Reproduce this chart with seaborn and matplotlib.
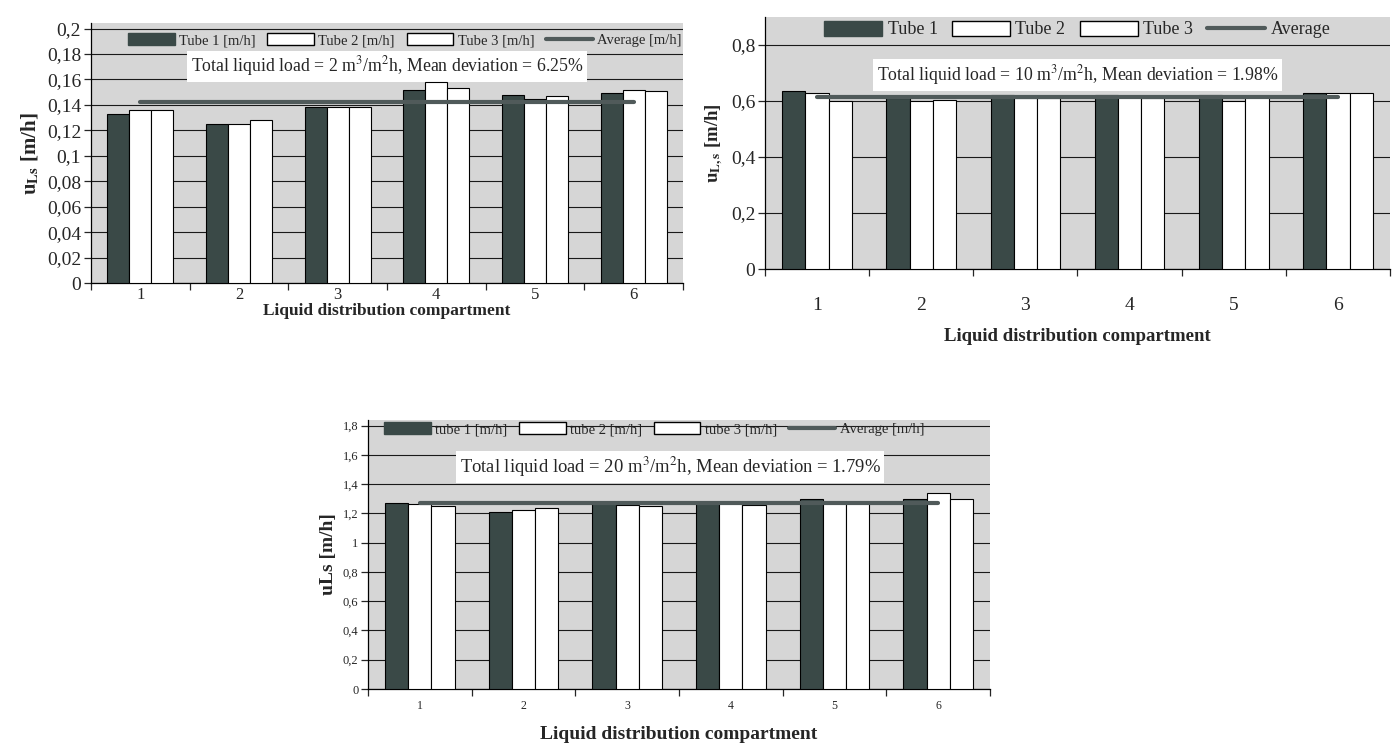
import numpy as np
import pandas as pd
import matplotlib
matplotlib.use('Agg')
import matplotlib.pyplot as plt
import seaborn as sns
from matplotlib.patches import Patch
from matplotlib.lines import Line2D
from matplotlib.ticker import MultipleLocator, FuncFormatter, FixedLocator

# Data
compartments = ['1', '2', '3', '4', '5', '6']

# load 2 m3/m2h
tube1_2 = [0.133, 0.125, 0.138, 0.152, 0.148, 0.149]
tube2_2 = [0.136, 0.125, 0.138, 0.158, 0.145, 0.152]
tube3_2 = [0.136, 0.128, 0.138, 0.153, 0.147, 0.151]
avg_2 = [0.142, 0.142, 0.142, 0.142, 0.142, 0.142]

# load 10 m3/m2h
tube1_10 = [0.635, 0.610, 0.620, 0.620, 0.620, 0.630]
tube2_10 = [0.630, 0.600, 0.610, 0.615, 0.600, 0.630]
tube3_10 = [0.600, 0.605, 0.610, 0.610, 0.615, 0.630]
avg_10 = [0.616, 0.616, 0.616, 0.616, 0.616, 0.616]

# load 20 m3/m2h
tube1_20 = [1.27, 1.21, 1.28, 1.27, 1.30, 1.30]
tube2_20 = [1.265, 1.22, 1.26, 1.27, 1.28, 1.34]
tube3_20 = [1.25, 1.24, 1.25, 1.26, 1.28, 1.30]
avg_20 = [1.27, 1.27, 1.27, 1.27, 1.27, 1.27]

sns.set_style('white')
plt.rcParams['font.family'] = ['Liberation Serif', 'DejaVu Serif']
plt.rcParams['mathtext.fontset'] = 'stix'

dark = '#3a4947'
bg = '#d6d6d6'
line_col = '#505a5a'


def comma_fmt(v, pos):
    return '{:g}'.format(round(v, 4)).replace('.', ',')


def draw_panel(ax, t1, t2, t3, avg, names, ymax, ystep, ylabel, note,
               tick_fs, xtick_fs, xlab_fs, ylab_fs, leg_fs, note_fs, xpad, xlabpad,
               leg_xy, note_xy):
    df = pd.DataFrame({
        'compartment': compartments * 3,
        'value': t1 + t2 + t3,
        'tube': [names[0]] * 6 + [names[1]] * 6 + [names[2]] * 6,
    })
    ax.set_facecolor(bg)
    sns.barplot(data=df, x='compartment', y='value', hue='tube',
                palette=[dark, 'white', 'white'], edgecolor='black', linewidth=0.8,
                width=0.67, saturation=1, ax=ax, legend=False, zorder=3)
    ax.plot(range(len(compartments)), avg, color=line_col, lw=3, zorder=4)

    ax.set_ylim(0, ymax)
    ax.set_xlim(-0.5, len(compartments) - 0.5)
    ax.yaxis.set_major_locator(MultipleLocator(ystep))
    ax.yaxis.set_major_formatter(FuncFormatter(comma_fmt))
    ax.yaxis.grid(True, color='#1a1a1a', lw=0.8)
    ax.set_axisbelow(True)

    # category boundaries carry the ticks, labels sit in between
    ax.xaxis.set_major_locator(FixedLocator(np.arange(-0.5, len(compartments), 1.0)))
    ax.xaxis.set_major_formatter(FuncFormatter(lambda v, p: ''))
    ax.xaxis.set_minor_locator(FixedLocator(np.arange(len(compartments))))
    ax.set_xticklabels(compartments, minor=True)
    ax.tick_params(axis='x', which='major', direction='out', length=5, width=0.9, bottom=True)
    ax.tick_params(axis='x', which='minor', length=0, labelsize=xtick_fs, pad=xpad)
    ax.tick_params(axis='y', direction='out', length=5, width=0.9, left=True, labelsize=tick_fs, pad=2)

    for s in ['top', 'right']:
        ax.spines[s].set_visible(False)
    for s in ['left', 'bottom']:
        ax.spines[s].set_color('black')
        ax.spines[s].set_linewidth(0.9)

    ax.set_xlabel('Liquid distribution compartment', fontsize=xlab_fs, fontweight='bold',
                  labelpad=xlabpad)
    ax.set_ylabel(ylabel, fontsize=ylab_fs, fontweight='bold', labelpad=4)

    handles = [Patch(facecolor=dark, edgecolor=dark),
               Patch(facecolor='white', edgecolor='black'),
               Patch(facecolor='white', edgecolor='black'),
               Line2D([0], [0], color=line_col, lw=3)]
    leg = ax.legend(handles, [names[0], names[1], names[2], names[3]], loc='center',
                    bbox_to_anchor=leg_xy, ncol=4, frameon=False, fontsize=leg_fs,
                    handlelength=3.2, handleheight=0.9, columnspacing=0.8, handletextpad=0.3,
                    borderaxespad=0)
    leg.set_zorder(8)
    # note box sits behind the bars, over the grid
    ax.text(note_xy[0], note_xy[1], note, transform=ax.transAxes, ha='center', va='center',
            fontsize=note_fs, zorder=2,
            bbox=dict(facecolor='white', edgecolor='none', pad=2.5))


fig = plt.figure(figsize=(13.95, 7.46), dpi=100)

ax1 = fig.add_axes([0.0652, 0.6206, 0.4244, 0.3480])
draw_panel(ax1, tube1_2, tube2_2, tube3_2, avg_2,
           ['Tube 1 [m/h]', 'Tube 2 [m/h]', 'Tube 3 [m/h]', 'Average [m/h]'],
           0.204, 0.02, r'$\mathbf{u}_{\mathbf{Ls}}$ [m/h]',
           r'Total liquid load = 2 m$^3$/m$^2$h, Mean deviation = 6.25%',
           14, 12, 12.5, 15, 10.5, 12.8, 3, 0, (0.53, 0.935), (0.50, 0.835))

ax2 = fig.add_axes([0.5484, 0.6394, 0.4480, 0.3378])
draw_panel(ax2, tube1_10, tube2_10, tube3_10, avg_10,
           ['Tube 1', 'Tube 2', 'Tube 3', 'Average'],
           0.9, 0.2, r'$\mathbf{u}_{\mathbf{L,s}}$ [m/h]',
           r'Total liquid load = 10 m$^3$/m$^2$h, Mean deviation = 1.98%',
           14, 14, 13.5, 13.5, 13, 12.8, 20, 10, (0.5, 0.95), (0.50, 0.77))

ax3 = fig.add_axes([0.2638, 0.0764, 0.4459, 0.3610])
draw_panel(ax3, tube1_20, tube2_20, tube3_20, avg_20,
           ['tube 1 [m/h]', 'tube 2 [m/h]', 'tube 3 [m/h]', 'Average [m/h]'],
           1.84, 0.2, 'uLs [m/h]',
           r'Total liquid load = 20 m$^3$/m$^2$h, Mean deviation = 1.79%',
           9, 8.5, 14, 14, 10.5, 13.4, 8, 10, (0.46, 0.965), (0.486, 0.825))

fig.savefig('out.png', dpi=100, facecolor='white')
